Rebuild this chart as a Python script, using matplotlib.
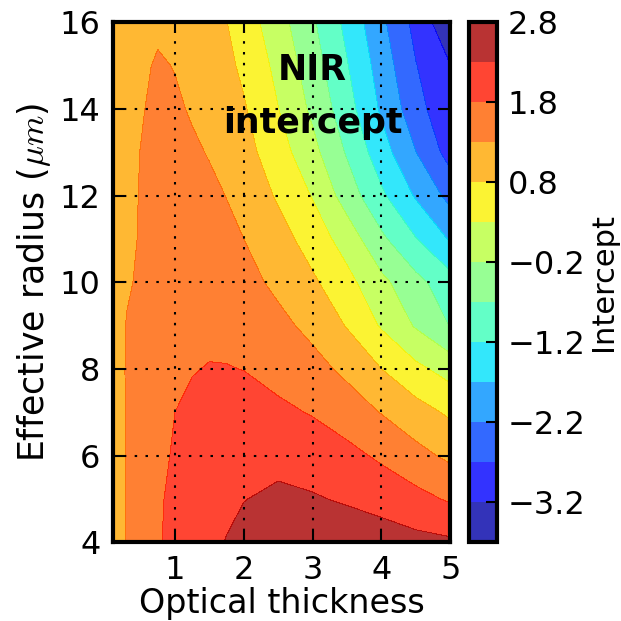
import numpy as np
import matplotlib.pyplot as plt

plt.rcParams['mathtext.fontset'] = 'cm'

# optical thickness (columns) and effective radius in micron (rows)
tau = [0.1, 0.3, 0.5, 0.75, 1.0, 1.25, 1.5, 1.75, 2.0, 2.5, 3.0, 3.5, 4.0, 4.5, 5.0]
reff = [4, 5, 6, 7, 8, 9, 10, 11, 12, 13, 14, 15, 16]

# NIR intercept, one row per effective radius
intercept = [
    [0.88, 1.36, 1.62, 1.76, 1.92, 2.05, 2.18, 2.32, 2.42, 2.56, 2.55, 2.52, 2.50, 2.44, 2.38],
    [0.88, 1.36, 1.62, 1.76, 1.87, 1.99, 2.10, 2.20, 2.29, 2.37, 2.33, 2.26, 2.15, 1.95, 1.74],
    [0.88, 1.36, 1.60, 1.73, 1.83, 1.94, 2.03, 2.10, 2.15, 2.20, 2.14, 1.95, 1.71, 1.45, 1.20],
    [0.88, 1.36, 1.55, 1.70, 1.80, 1.89, 1.97, 2.02, 2.03, 1.92, 1.76, 1.53, 1.28, 1.00, 0.72],
    [0.90, 1.36, 1.50, 1.63, 1.72, 1.78, 1.82, 1.82, 1.79, 1.60, 1.45, 1.20, 0.80, 0.42, 0.10],
    [0.92, 1.34, 1.45, 1.60, 1.68, 1.71, 1.70, 1.66, 1.60, 1.42, 1.18, 0.77, 0.25, -0.25, -0.72],
    [0.95, 1.22, 1.40, 1.55, 1.63, 1.65, 1.62, 1.55, 1.45, 1.20, 0.88, 0.45, -0.08, -0.55, -1.00],
    [0.97, 1.15, 1.35, 1.55, 1.60, 1.58, 1.52, 1.42, 1.30, 1.00, 0.58, 0.08, -0.60, -1.18, -1.75],
    [0.98, 1.15, 1.33, 1.52, 1.55, 1.50, 1.41, 1.29, 1.15, 0.74, 0.27, -0.43, -1.11, -1.75, -2.35],
    [1.00, 1.15, 1.31, 1.50, 1.47, 1.38, 1.27, 1.14, 0.98, 0.52, -0.05, -0.75, -1.48, -2.19, -2.90],
    [1.00, 1.15, 1.25, 1.45, 1.38, 1.25, 1.13, 1.01, 0.85, 0.31, -0.30, -1.00, -1.77, -2.50, -3.12],
    [1.00, 1.10, 1.20, 1.36, 1.28, 1.15, 1.10, 0.92, 0.70, 0.17, -0.47, -1.17, -1.92, -2.68, -3.18],
    [1.00, 1.10, 1.15, 1.20, 1.20, 1.10, 1.05, 0.81, 0.56, 0.00, -0.63, -1.33, -2.09, -2.85, -3.60],
]

levels = np.linspace(-3.7, 2.8, 14)
cbar_ticks = [2.8, 1.8, 0.8, -0.2, -1.2, -2.2, -3.2]

fig = plt.figure(figsize=(6.21, 6.21), dpi=100)
ax = fig.add_axes([0.182, 0.127, 0.543, 0.837])
cax = fig.add_axes([0.755, 0.127, 0.045, 0.837])

cf = ax.contourf(tau, reff, intercept, levels=levels, cmap='jet', alpha=0.8)

ax.set_xlim(0.1, 5)
ax.set_ylim(4, 16)
ax.set_xticks([1, 2, 3, 4, 5])
ax.set_yticks([4, 6, 8, 10, 12, 14, 16])
ax.grid(True, color='k', linestyle=(0, (1.2, 4)), linewidth=1.5)
ax.set_axisbelow(False)
ax.tick_params(direction='in', length=8, width=1.5, top=True, right=True,
               labelsize=23, pad=9)
for sp in ax.spines.values():
    sp.set_linewidth(3)

ax.set_xlabel('Optical thickness', fontsize=24, labelpad=1)
ax.set_ylabel(r'Effective radius ($\mu m$)', fontsize=25, labelpad=5)

ax.text(3.0, 14.9, 'NIR', ha='center', va='center',
        fontsize=25, fontweight='bold')
ax.text(3.0, 13.45, 'intercept', ha='center', va='baseline',
        fontsize=25, fontweight='bold')

cb = fig.colorbar(cf, cax=cax, ticks=cbar_ticks)
cb.outline.set_linewidth(3)
cax.tick_params(direction='in', length=8, width=1.5, labelsize=23, pad=8)
cb.set_label('Intercept', fontsize=22, labelpad=2)

fig.savefig('out.png', dpi=100)
